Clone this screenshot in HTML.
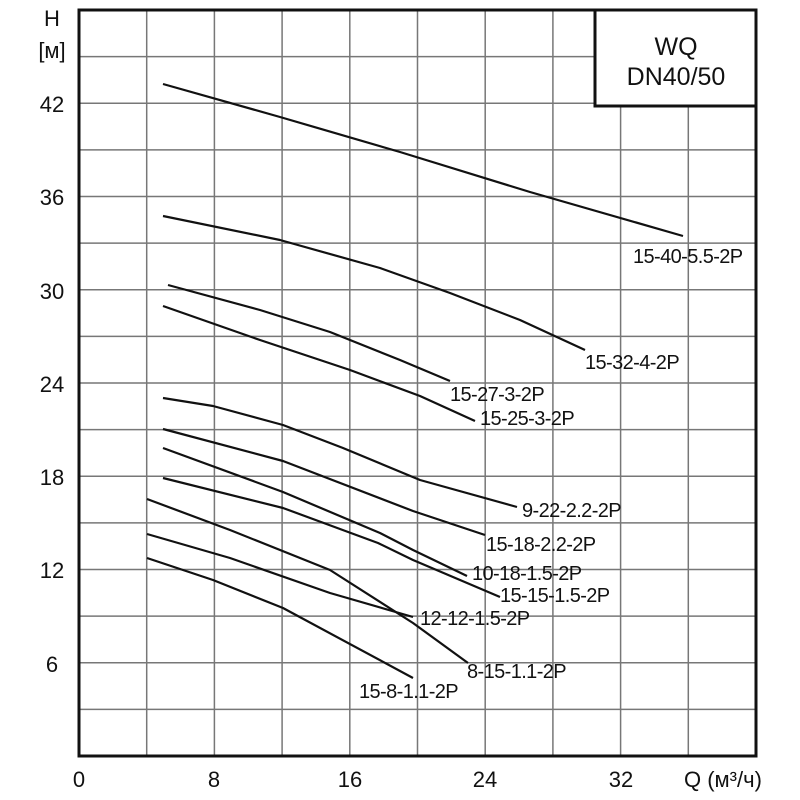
<!DOCTYPE html>
<html><head><meta charset="utf-8"><style>
html,body{margin:0;padding:0;background:#fff;}
svg{display:block;}
text{font-family:"Liberation Sans",sans-serif;fill:#111;}
</style></head><body>
<svg width="800" height="800" viewBox="0 0 800 800" xmlns="http://www.w3.org/2000/svg">
<g stroke="#777" stroke-width="1.5">
<line x1="146.7" y1="10" x2="146.7" y2="756"/>
<line x1="214.4" y1="10" x2="214.4" y2="756"/>
<line x1="282.1" y1="10" x2="282.1" y2="756"/>
<line x1="349.8" y1="10" x2="349.8" y2="756"/>
<line x1="417.5" y1="10" x2="417.5" y2="756"/>
<line x1="485.2" y1="10" x2="485.2" y2="756"/>
<line x1="552.9" y1="10" x2="552.9" y2="756"/>
<line x1="620.6" y1="10" x2="620.6" y2="756"/>
<line x1="688.3" y1="10" x2="688.3" y2="756"/>
<line x1="79" y1="56.6" x2="756" y2="56.6"/>
<line x1="79" y1="103.3" x2="756" y2="103.3"/>
<line x1="79" y1="149.9" x2="756" y2="149.9"/>
<line x1="79" y1="196.5" x2="756" y2="196.5"/>
<line x1="79" y1="243.1" x2="756" y2="243.1"/>
<line x1="79" y1="289.8" x2="756" y2="289.8"/>
<line x1="79" y1="336.4" x2="756" y2="336.4"/>
<line x1="79" y1="383" x2="756" y2="383"/>
<line x1="79" y1="429.6" x2="756" y2="429.6"/>
<line x1="79" y1="476.3" x2="756" y2="476.3"/>
<line x1="79" y1="522.9" x2="756" y2="522.9"/>
<line x1="79" y1="569.5" x2="756" y2="569.5"/>
<line x1="79" y1="616.1" x2="756" y2="616.1"/>
<line x1="79" y1="662.8" x2="756" y2="662.8"/>
<line x1="79" y1="709.4" x2="756" y2="709.4"/>
</g>
<rect x="595" y="10" width="161" height="96" fill="#fff" stroke="#111" stroke-width="3"/>
<rect x="79" y="10" width="677" height="746" fill="none" stroke="#111" stroke-width="3"/>
<text x="676" y="55" font-size="25" text-anchor="middle">WQ</text>
<text x="676" y="85" font-size="25" text-anchor="middle">DN40/50</text>
<g fill="none" stroke="#111" stroke-width="2.2" stroke-linejoin="round">
<polyline points="163,84 280,117 400,152 530,192 683,236"/>
<polyline points="163,216 280,240 380,268 450,293 520,320 585,350"/>
<polyline points="168,285 260,310 330,332 400,360 450,381"/>
<polyline points="163,306 260,340 350,370 420,396 475,421"/>
<polyline points="163,398 213,406 283,425 343,448 420,480 517,507"/>
<polyline points="163,429 283,461 413,511 485,535"/>
<polyline points="163,448 283,492 380,533 413,550 467,576"/>
<polyline points="163,478 283,508 378,543 413,560 500,597"/>
<polyline points="147,499 230,530 330,570 413,623 468,663"/>
<polyline points="147,534 230,558 330,593 413,617"/>
<polyline points="147,558 213,580 283,608 413,678"/>
</g>
<g font-size="20" letter-spacing="-0.6">
<text x="633" y="263">15-40-5.5-2P</text>
<text x="585" y="369">15-32-4-2P</text>
<text x="450" y="401">15-27-3-2P</text>
<text x="480" y="425">15-25-3-2P</text>
<text x="522" y="517">9-22-2.2-2P</text>
<text x="486" y="551">15-18-2.2-2P</text>
<text x="472" y="580">10-18-1.5-2P</text>
<text x="500" y="602">15-15-1.5-2P</text>
<text x="420" y="625">12-12-1.5-2P</text>
<text x="467" y="678">8-15-1.1-2P</text>
<text x="359" y="698">15-8-1.1-2P</text>
</g>
<g font-size="22" text-anchor="middle">
<text x="52" y="26">H</text>
<text x="52" y="58">[м]</text>
<text x="52" y="112">42</text>
<text x="52" y="205">36</text>
<text x="52" y="299">30</text>
<text x="52" y="392">24</text>
<text x="52" y="485">18</text>
<text x="52" y="578">12</text>
<text x="52" y="672">6</text>
<text x="79" y="787">0</text>
<text x="214" y="787">8</text>
<text x="350" y="787">16</text>
<text x="485" y="787">24</text>
<text x="621" y="787">32</text>
</g>
<text x="684" y="787" font-size="22">Q (м³/ч)</text>
</svg>
</body></html>
